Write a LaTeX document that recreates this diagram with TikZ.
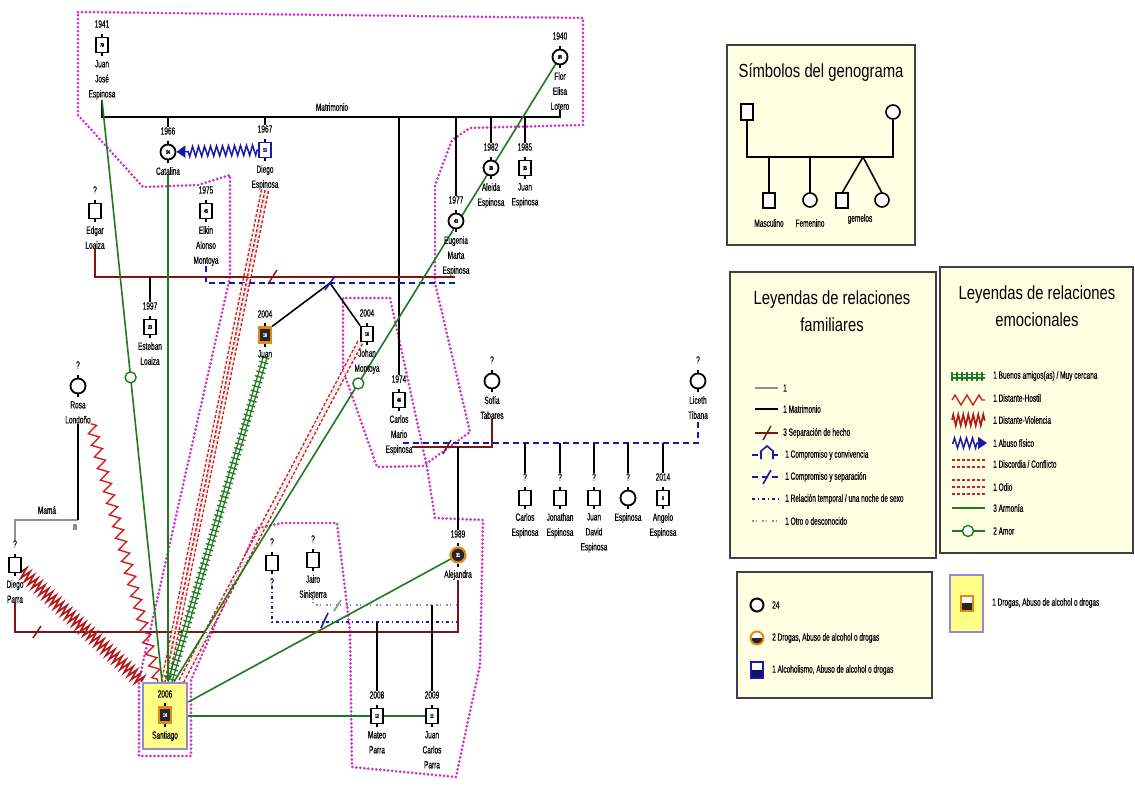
\documentclass[tikz,border=0pt]{standalone}
\usepackage{fontspec}
\setmainfont{Liberation Sans}
\newfontfamily\cndf[FakeStretch=0.62,FakeBold=0.4]{Liberation Sans}
\newfontfamily\ttlf[FakeStretch=0.78]{Liberation Sans}
\usetikzlibrary{calc,decorations.pathmorphing,decorations.pathreplacing,arrows.meta,backgrounds}
\pgfdeclarelayer{bottom}
\pgfsetlayers{bottom,background,main}
\definecolor{pinkd}{HTML}{CC33CC}
\definecolor{brownr}{HTML}{7A1515}
\definecolor{navyd}{HTML}{1A1AA6}
\definecolor{greenl}{HTML}{1F7A1F}
\definecolor{redl}{HTML}{D02020}
\definecolor{legfill}{HTML}{FFFFE3}
\definecolor{sanfill}{HTML}{FFFF88}
\definecolor{sanbord}{HTML}{8C8CD8}
\definecolor{orng}{HTML}{E08A1E}
\definecolor{grayl}{HTML}{909090}
\newcommand\gperson[6]{%
  \node[#2] (#1) at (#3) {#4};
  \node[yr] (#1-y) at ($(#1)+(0,-21)$) {#5};
  \node[nm] (#1-n) at ($(#1)+(0,15)$) {#6};
}
\tikzset{
  lbl/.style={font={\cndf\fontsize{10.5}{15}\selectfont}, inner sep=0pt, align=center},
  yr/.style={lbl},
  nm/.style={lbl, anchor=north},
  ltx/.style={lbl, anchor=west},
  ttl/.style={font={\ttlf\fontsize{19}{27}\selectfont}, inner sep=0pt, align=center},
  ms/.style={draw, line width=1.8pt, fill=white, minimum width=12pt, minimum height=15pt, inner sep=0pt, font={\cndf\fontsize{5.5}{5.5}\selectfont\bfseries}},
  fc/.style={draw, circle, line width=1.8pt, fill=white, minimum size=15pt, inner sep=0pt, font={\cndf\fontsize{5.5}{5.5}\selectfont\bfseries}},
  msblue/.style={ms, draw=navyd, text=navyd},
  msdrug/.style={ms, draw=orng, line width=2.2pt, fill=black!85, text=white},
  fcdrug/.style={fc, draw=orng, line width=2.2pt, fill=black!85, text=white},
  sbx/.style={draw=sanbord, line width=2.5pt, fill=sanfill, minimum width=44pt, minimum height=66pt, inner sep=0pt},
  pinkdot/.style={draw=pinkd, line width=3pt, dash pattern=on 0pt off 4pt, line cap=round},
  marr/.style={draw=black, line width=1.6pt},
  sepl/.style={draw=brownr, line width=1.8pt},
  cmp/.style={draw=navyd, line width=1.6pt, dash pattern=on 6pt off 4pt},
  temp/.style={draw=navyd, line width=1.5pt, dash pattern=on 3pt off 3pt on 1pt off 3pt},
  otro/.style={draw=grayl, line width=1.3pt, dash pattern=on 1.5pt off 2pt on 1.5pt off 5pt},
  arm/.style={draw=greenl, line width=1.6pt},
  amorc/.style={draw=greenl, circle, line width=1.4pt, fill=white, minimum size=11pt, inner sep=0pt},
  hostil/.style={draw=redl, line width=1.4pt, decorate, decoration={zigzag, segment length=12pt, amplitude=5pt}},
  violencia/.style={draw=redl!85!black, line width=1.7pt, decorate, decoration={zigzag, segment length=5pt, amplitude=5.5pt}},
  abuso/.style={draw=navyd, line width=1.5pt, decorate, decoration={zigzag, segment length=6pt, amplitude=5pt, pre length=1pt, post length=9pt}, -{Triangle[length=9pt,width=12pt]}},
  odioA/.style={draw=redl, line width=1.5pt, dash pattern=on 3pt off 2pt, double=white, double distance=5.5pt},
  odioB/.style={draw=redl, line width=1.5pt, dash pattern=on 3pt off 2pt},
  disc/.style={draw=redl, line width=1.5pt, dash pattern=on 3pt off 2pt, double=white, double distance=3.5pt},
  amigl/.style={draw=greenl, line width=1.3pt, double=white, double distance=2.4pt},
  amigt/.style={draw=greenl, line width=1.3pt, decorate, decoration={ticks, segment length=5pt, amplitude=4.5pt}},
  lgbox/.style={draw=black!75, line width=1.2pt, fill=legfill},
}
\begin{document}
\begin{tikzpicture}[x=1pt,y=-1pt]
\begin{pgfonlayer}{bottom}
\fill[white] (0,0) rectangle (1135,785);
\end{pgfonlayer}
\useasboundingbox (0,0) rectangle (1135,785);

% ---------- persons ----------
\gperson{jj}{ms}{102,45}{79}{1941}{Juan\\José\\Espinosa}
\gperson{flor}{fc}{560,57}{80}{1940}{Flor\\Elisa\\Lotero}
\gperson{cat}{fc}{168,152}{54}{1966}{Catalina}
\gperson{dieg}{msblue}{265,150}{53}{1967}{Diego\\Espinosa}
\gperson{ald}{fc}{491,168}{38}{1982}{Aleida\\Espinosa}
\gperson{jue}{ms}{525,168}{35}{1985}{Juan\\Espinosa}
\gperson{eug}{fc}{456,221}{43}{1977}{Eugenia\\Marta\\Espinosa}
\gperson{edg}{ms}{95,211}{}{?}{Edgar\\Loaiza}
\gperson{elk}{ms}{206,211}{45}{1975}{Elkin\\Alonso\\Montoya}
\gperson{est}{ms}{150,327}{23}{1997}{Esteban\\Loaiza}
\gperson{jua}{msdrug}{265,335}{16}{2004}{Juan}
\gperson{joh}{ms}{367,334}{16}{2004}{Johan\\Montoya}
\gperson{cm}{ms}{399,400}{46}{1974}{Carlos\\Mario\\Espinosa}
\gperson{sof}{fc}{492,381}{}{?}{Sofía\\Tabares}
\gperson{lic}{fc}{698,381}{}{?}{Liceth\\Tibana}
\gperson{ce}{ms}{525,498}{}{?}{Carlos\\Espinosa}
\gperson{jon}{ms}{560,498}{}{?}{Jonathan\\Espinosa}
\gperson{jd}{ms}{594,498}{}{?}{Juan\\David\\Espinosa}
\gperson{esp}{fc}{628,498}{}{?}{Espinosa}
\gperson{ang}{ms}{663,498}{6}{2014}{Angelo\\Espinosa}
\gperson{alj}{fcdrug}{458,555}{31}{1989}{Alejandra}
\gperson{ros}{fc}{78,386}{}{?}{Rosa\\Londoño}
\gperson{dp}{ms}{15,565}{}{?}{Diego\\Parra}
\gperson{unk}{ms}{272,563}{}{?}{?}
\gperson{jai}{ms}{313,560}{}{?}{Jairo\\Sinisterra}
\gperson{mat}{ms}{377,716}{12}{2008}{Mateo\\Parra}
\gperson{jc}{ms}{432,716}{11}{2009}{Juan\\Carlos\\Parra}

\node[sbx] (sbox) at (165,716) {};
\node[yr] (san-y) at (165,694) {2006};
\node[msdrug] (san) at (165,715) {14};
\node[lbl] (san-n) at (165,736) {Santiago};

\foreach \p in {jj,flor,cat,dieg,ald,jue,eug,edg,elk,est,jua,joh,cm,sof,lic,ce,jon,jd,esp,ang,alj,ros,dp,unk,jai,mat,jc,san}
  \draw[line width=1.2pt] (\p.north) -- ++(0,-3) (\p.south) -- ++(0,3);

\node[lbl] (matl) at (332,107) {Matrimonio};
\node[lbl] (mamal) at (47,510) {Mamá};

\begin{scope}[on background layer]
% household outline
\draw[pinkdot] (78,12) -- (583,18) -- (583,125) -- (470,128) -- (452,140) -- (435,185) -- (435,283)
  -- (470,432) -- (423,466) -- (377,467) -- (343,370) -- (343,298) -- (390,298) -- (427,467)
  -- (435,518) -- (483,520) -- (480,665) -- (456,777) -- (352,767) -- (350,630) -- (337,523)
  -- (283,523) -- (257,528) -- (191,680) -- (191,756) -- (139,756) -- (139,680) -- (230,277)
  -- (230,175) -- (198,185) -- (143,187) -- (78,115) -- cycle;

% marriage
\coordinate (mL) at (102,117); \coordinate (mR) at (560,117);
\draw[marr] (jj-n.south) -- (mL) -- (mR) -- (flor-n.south);
\foreach \c in {cat,dieg,cm,eug,ald,jue} \draw[marr] (\c-y.north) -- (\c-y.north |- mL);

% Edgar - Eugenia
\coordinate (sepR) at (455,277);
\draw[sepl] (edg-n.south) |- (sepR);
\draw[marr] (est-y.north) -- (est-y.north |- sepR);
\draw[sepl, line width=1.4pt] (268,284) -- (277,270);
% Elkin - Eugenia
\coordinate (cmpR) at (455,283);
\draw[cmp] (elk-n.south) |- (cmpR);
\coordinate (twin) at (330,283);
\draw[marr] (twin) -- (jua.north east);
\draw[marr] (twin) -- (joh.north west);
\draw[navyd, line width=1.5pt] (325,290) -- (335,276);

% Carlos Mario - Sofia / Liceth
\coordinate (cmS) at (412,447); \coordinate (cmC) at (403,443);
\draw[sepl] (cmS) -| (sof-n.south);
\draw[sepl, line width=1.4pt] (443,454) -- (451,440);
\draw[cmp] (cmC) -| (lic-n.south);
\foreach \c in {ce,jon,jd,esp,ang} \draw[marr] (\c-y.north) -- (\c-y.north |- cmC);
\draw[marr] (alj-y.north) -- (alj-y.north |- cmS);

% Diego Parra - Alejandra
\coordinate (dpa) at (458,632);
\draw[sepl] (dp-n.south) |- (dpa) -- (alj-n.south);
\draw[sepl, line width=1.4pt] (33,638) -- (41,626);
\coordinate (tmpR) at (457,622);
\draw[temp] (unk-n.south) |- (tmpR);
\draw[navyd, line width=1.6pt] (321,628) -- (328,613);
\coordinate (otR) at (457,605);
\draw[otro] (jai-n.south) |- (otR);
\draw[grayl, line width=1.6pt] (334,611) -- (341,600);
\draw[marr] (mat-y.north) -- (mat-y.north |- tmpR);
\draw[marr] (jc-y.north) -- (jc-y.north |- otR);

% Mama
\coordinate (mam) at (78,520);
\draw[draw=grayl, line width=2pt] (dp-y.north) |- (mam);
\draw[marr, line width=1.4pt] (mam) -- (ros-n.south);
\fill[grayl] (73,524) rectangle (77,530);

% emotional
\draw[abuso] (dieg) -- (cat);
\draw[hostil] (ros-n.south east) -- ([xshift=-7pt]sbox.north);
\draw[violencia] (dp) -- (sbox.north west);
\draw[odioA] (dieg-n.south) -- (sbox.north);
\draw[odioB] (dieg-n.south) -- (sbox.north);
\draw[disc] (joh.south west) -- ([xshift=16pt]sbox.north);
\draw[amigl] (jua-n.south) -- ([xshift=5pt]sbox.north);
\draw[amigt] (jua-n.south) -- ([xshift=5pt]sbox.north);
\draw[arm, -{Straight Barb[length=5pt,width=7pt]}] (cat-n.south) -- (cat-n.south |- sbox.north);
\draw[arm] (jj-n.south) -- ([xshift=-3pt]sbox.north) node[amorc, pos=0.477] (amor1) {};
\draw[arm] (flor) -- ([xshift=9pt]sbox.north) node[amorc, pos=0.517] (amor2) {};
\draw[arm] (alj) -- ([yshift=14pt]sbox.east);
\draw[arm] (sbox) -- (mat) -- (jc);
\end{scope}

% ---------- legend 1 ----------
\draw[lgbox] (727,45) rectangle (915,245);
\node[ttl] (t1) at (821,72) {Símbolos del genograma};
\draw[line width=1.6pt] (747,120) -- (747,157) -- (893,157) -- (893,120);
\draw[line width=1.6pt] (769,157) -- (769,193) (810,157) -- (810,193) (863,157) -- (842,193) (863,157) -- (882,193);
\draw[line width=1.6pt, fill=white] (741,104) rectangle (753,120);
\draw[line width=1.6pt, fill=white] (893,112) circle (7);
\draw[line width=1.6pt, fill=white] (763,193) rectangle (775,208);
\draw[line width=1.6pt, fill=white] (810,200) circle (7);
\draw[line width=1.6pt, fill=white] (836,193) rectangle (848,208);
\draw[line width=1.6pt, fill=white] (882,200) circle (7);
\node[lbl] (s1) at (769,223) {Masculino};
\node[lbl] (s2) at (810,223) {Femenino};
\node[lbl] (s3) at (860,219) {gemelos};

% ---------- legend 2 ----------
\draw[lgbox] (730,272) rectangle (936,558);
\node[ttl] (t2) at (832,311) {Leyendas de relaciones\\familiares};
\draw[grayl, line width=2pt] (755,388) -- (778,388);
\draw[marr] (755,409) -- (778,409);
\draw[sepl] (755,433) -- (778,433); \draw[sepl, line width=1.4pt] (763,440) -- (771,426);
\draw[cmp] (752,455) -- (782,455); \draw[navyd, line width=1.6pt, fill=legfill] (761,459) -- (761,451) -- (767,446) -- (773,451) -- (773,459);
\draw[cmp] (752,477) -- (782,477); \draw[navyd, line width=1.6pt] (763,484) -- (771,470);
\draw[temp] (752,499) -- (782,499);
\draw[otro] (752,521) -- (782,521);
\node[ltx] (f1) at (783,388) {1};
\node[ltx] (f2) at (783,409) {1 Matrimonio};
\node[ltx] (f3) at (783,433) {3 Separación de hecho};
\node[ltx] (f4) at (785,455) {1 Compromiso y convivencia};
\node[ltx] (f5) at (785,477) {1 Compromiso y separación};
\node[ltx] (f6) at (785,499) {1 Relación temporal / una noche de sexo};
\node[ltx] (f7) at (785,521) {1 Otro o desconocido};

% ---------- legend 3 ----------
\draw[lgbox] (940,267) rectangle (1133,553);
\node[ttl] (t3) at (1037,306) {Leyendas de relaciones\\emocionales};
\draw[amigl] (952,376) -- (985,376); \draw[amigt] (952,376) -- (985,376);
\draw[hostil] (952,400) -- (985,400);
\draw[violencia] (952,420) -- (985,420);
\draw[abuso] (952,443) -- (987,443);
\draw[odioB] (952,460) -- (985,460) (952,467) -- (985,467);
\draw[odioB] (952,480) -- (985,480) (952,487) -- (985,487) (952,494) -- (985,494);
\draw[arm] (952,508) -- (985,508);
\draw[arm] (952,531) -- (985,531); \node[amorc] (lamor) at (968,531) {};
\node[ltx] (e1) at (993,376) {1 Buenos amigos(as) / Muy cercana};
\node[ltx] (e2) at (993,398) {1 Distante-Hostil};
\node[ltx] (e3) at (993,420) {1 Distante-Violencia};
\node[ltx] (e4) at (993,443) {1 Abuso físico};
\node[ltx] (e5) at (993,464) {1 Discordia / Conflicto};
\node[ltx] (e6) at (993,487) {1 Odio};
\node[ltx] (e7) at (993,508) {3 Armonía};
\node[ltx] (e8) at (993,531) {2 Amor};

% ---------- legend 4 ----------
\draw[lgbox] (737,572) rectangle (932,698);
\draw[line width=2pt, fill=white] (757,605) circle (6.5);
\begin{scope}
  \clip (757,638) circle (6.5);
  \fill[white] (749,630) rectangle (765,646);
  \fill[black!85] (749,638) rectangle (765,646);
\end{scope}
\draw[orng, line width=2pt] (757,638) circle (6.5);
\fill[white] (751,662) rectangle (763,678);
\fill[navyd!60!black] (751,670) rectangle (763,678);
\draw[navyd, line width=2pt] (751,662) rectangle (763,678);
\node[ltx] (d1) at (772,605) {24};
\node[ltx] (d2) at (772,638) {2 Drogas, Abuso de alcohol o drogas};
\node[ltx] (d3) at (772,670) {1 Alcoholismo, Abuso de alcohol o drogas};

% ---------- legend 5 ----------
\draw[draw=sanbord, line width=2.2pt, fill=sanfill] (950,575) rectangle (983,632);
\fill[white] (961,596) rectangle (973,611);
\fill[black!85] (961,603) rectangle (973,611);
\draw[orng, line width=2pt] (961,596) rectangle (973,611);
\node[ltx] (d4) at (992,603) {1 Drogas, Abuso de alcohol o drogas};
\end{tikzpicture}
\end{document}
